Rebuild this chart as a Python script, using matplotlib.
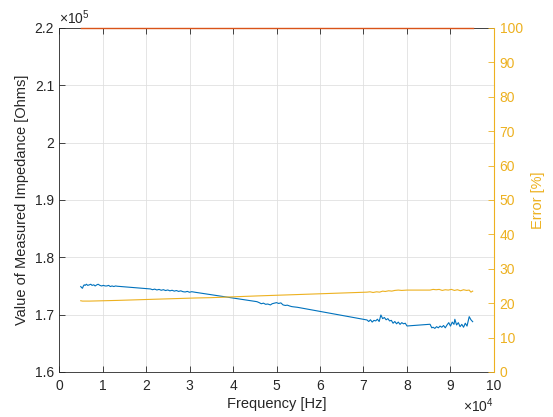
import matplotlib.pyplot as plt
from matplotlib.ticker import FuncFormatter, MultipleLocator

plt.rcParams['font.family'] = ['Liberation Sans', 'DejaVu Sans']
plt.rcParams['mathtext.default'] = 'regular'

# measured impedance (Hz, Ohms)
freq_z = [5000, 5200, 5400, 5600, 5800, 6000, 6300, 6600, 7000, 7300, 7600, 8000, 8300, 8700,
          9000, 9400, 9800, 10200, 10600, 11000, 11400, 11800, 12200, 12600, 13000, 13400,
          21000, 21500, 22000, 22500, 23000, 23500, 24000, 24500, 25000, 25500, 26000, 26500,
          27000, 27500, 28000, 28500, 29000, 29500, 30000, 30500, 31300,
          45500, 46000, 46500, 47000, 47500, 48000, 48600, 49000, 49500, 50000, 50500, 51000,
          51500, 52000, 52500, 53000, 53500, 54000, 54800,
          70800, 71200, 71600, 72000, 72400, 72800, 73200, 73600, 74000, 74400, 74800, 75200,
          75600, 76000, 76400, 76800, 77200, 77600, 78000, 78400, 78800, 79200, 79600, 80000,
          85300, 85700, 86000, 86400, 86800, 87200, 87600, 88000, 88400, 88800, 89200, 89600,
          90000, 90400, 90800, 91000, 91400, 91800, 92200, 92600, 93000, 93400, 93800, 94300,
          94700, 95100]
impedance = [174900, 174700, 174600, 175000, 175200, 175100, 175300, 175100, 175200, 175300,
             175100, 175200, 175000, 175200, 175300, 175100, 175000, 175100, 175000, 175000,
             175100, 174900, 175000, 174900, 175000, 174950,
             174480, 174350, 174450, 174300, 174400, 174250, 174350, 174200, 174300, 174150,
             174250, 174100, 174200, 174050, 174150, 174000, 173950, 174050, 173900, 174000,
             173900,
             172260, 172100, 171900, 172000, 171800, 171850, 171690, 171900, 172000, 172090,
             171950, 172050, 171700, 171600, 171650, 171510, 171400, 171350, 171280,
             169070, 168800, 169100, 168700, 169000, 168900, 169200, 168800, 169940, 169300,
             169500, 169100, 169300, 168900, 169000, 168500, 168800, 168400, 168700, 168300,
             168600, 168400, 168500, 168020,
             168320, 167700, 167800, 167600, 167900, 167700, 168000, 167800, 168100, 167700,
             168200, 168600, 168000, 168700, 168300, 169190, 168200, 168600, 167900, 168300,
             167800, 168500, 168000, 169650, 169100, 168770]

# error (%)
freq_err = [5000, 5400, 6000, 7000, 13400, 21000, 31300, 35000, 45500, 54800, 70800, 71500,
            72200, 73000, 73700, 74400, 75000, 75800, 76500, 77200, 78000, 78800, 80000, 85300,
            86000, 86700, 87400, 88100, 88800, 89500, 90200, 90900, 91600, 92300, 93000, 93700,
            94300, 94700, 95100]
error = [20.7, 20.6, 20.6, 20.6, 20.8, 21.1, 21.5, 21.6, 22.1, 22.5, 23.2, 23.3, 23.1, 23.3,
         23.2, 23.5, 23.4, 23.6, 23.5, 23.7, 23.8, 23.7, 23.8, 23.8, 24.0, 23.9, 24.0, 23.7,
         23.9, 23.8, 24.0, 23.7, 23.9, 23.6, 23.9, 23.7, 23.8, 23.2, 23.5]

# upper line (%)
freq_top = [5000, 95100]
top_err = [100, 100]

blue = '#0072BD'
red = '#D95319'
yellow = '#EDB120'
dark = '#262626'

fig = plt.figure(figsize=(5.53, 4.17), dpi=100)
ax = fig.add_axes([0.1067, 0.108, 0.7866, 0.825])
ax2 = ax.twinx()

ax.plot(freq_z, impedance, color=blue, lw=0.8)
ax2.plot(freq_err, error, color=yellow, lw=0.8)
ax2.plot(freq_top, top_err, color=red, lw=1.0, clip_on=False, zorder=5)

ax.set_xlim(0, 100000)
ax.set_ylim(160000, 220000)
ax2.set_ylim(0, 100)

ax.xaxis.set_major_locator(MultipleLocator(10000))
ax.yaxis.set_major_locator(MultipleLocator(10000))
ax2.yaxis.set_major_locator(MultipleLocator(10))
ax.xaxis.set_major_formatter(FuncFormatter(lambda v, p: f'{v / 1e4:g}'))
ax.yaxis.set_major_formatter(FuncFormatter(lambda v, p: f'{v / 1e5:g}'))

ax.grid(True, color='#e0e0e0', lw=0.6)
ax.set_axisbelow(True)

ax.tick_params(axis='both', direction='in', length=4, width=0.6, colors=dark,
               labelsize=10, top=True, right=False)
ax.tick_params(axis='x', pad=5)
ax2.tick_params(axis='y', direction='in', length=4, width=0.6, colors=yellow,
                labelsize=10, pad=4)

for s in ['left', 'top', 'bottom']:
    ax.spines[s].set_color(dark)
    ax.spines[s].set_linewidth(0.6)
ax.spines['right'].set_visible(False)
for s in ['left', 'top', 'bottom']:
    ax2.spines[s].set_visible(False)
ax2.spines['right'].set_color(yellow)
ax2.spines['right'].set_linewidth(0.8)

ax.set_xlabel('Frequency [Hz]', fontsize=10.5, color=dark, labelpad=3)
ax.set_ylabel('Value of Measured Impedance [Ohms]', fontsize=10.5, color=dark, labelpad=4)
ax2.set_ylabel('Error [%]', fontsize=10.5, color=yellow, labelpad=6)

ax.text(0, 1.004, r'$\times10^{5}$', transform=ax.transAxes, ha='left', va='bottom',
        fontsize=10, color=dark)
ax.text(1.0, -0.07, r'$\times10^{4}$', transform=ax.transAxes, ha='right', va='top',
        fontsize=10, color=dark)

fig.savefig('out.png', dpi=100)
